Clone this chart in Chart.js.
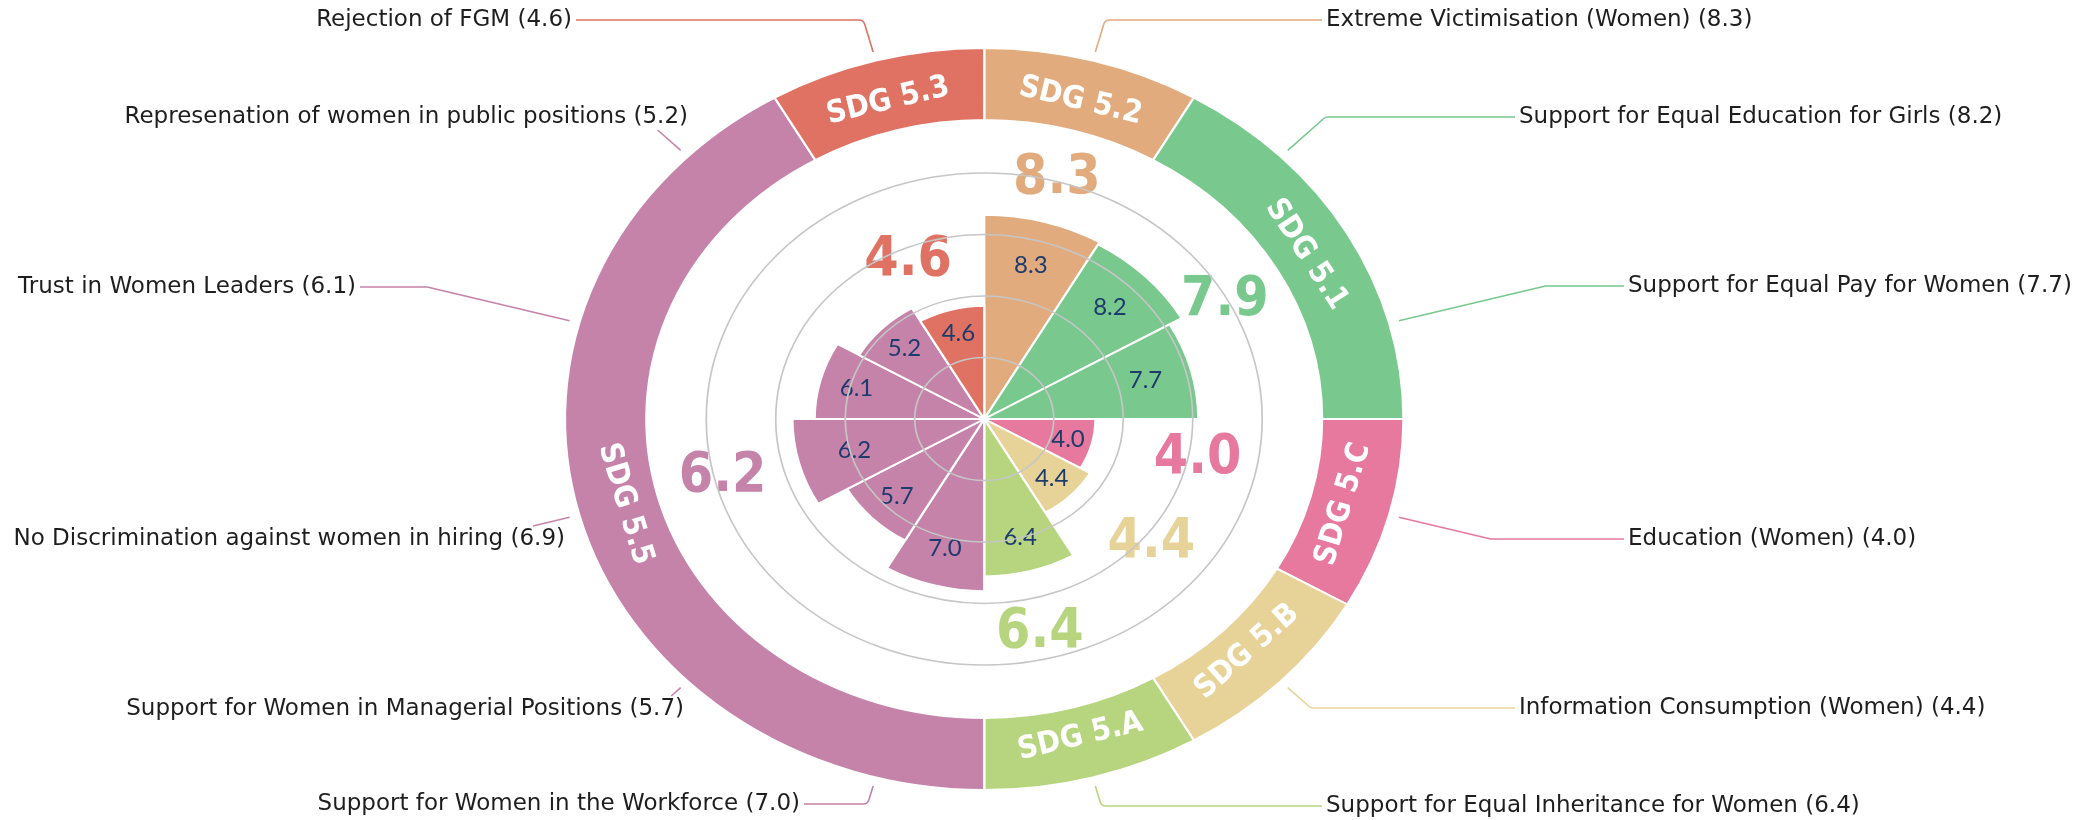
<!DOCTYPE html>
<html>
<head>
<meta charset="utf-8">
<script src="https://cdn.jsdelivr.net/npm/chart.js@4.4.1/dist/chart.umd.min.js"></script>
<style>
  html, body { margin: 0; padding: 0; background: #fff; }
  #wrap { position: relative; width: 2080px; height: 820px; }
  #wrap canvas { position: absolute; left: 0; top: 0; }
</style>
</head>
<body>
<div id="wrap">
  <canvas id="polar" width="2080" height="820"></canvas>
  <canvas id="ring" width="2080" height="820"></canvas>
</div>
<script>
// indicator wedges, clockwise from 12 o'clock
var indicators = [
  'Extreme Victimisation (Women)',
  'Support for Equal Education for Girls',
  'Support for Equal Pay for Women',
  'Education (Women)',
  'Information Consumption (Women)',
  'Support for Equal Inheritance for Women',
  'Support for Women in the Workforce',
  'Support for Women in Managerial Positions',
  'No Discrimination against women in hiring',
  'Trust in Women Leaders',
  'Represenation of women in public positions',
  'Rejection of FGM'
];
var scores = [8.3, 8.2, 7.7, 4.0, 4.4, 6.4, 7.0, 5.7, 6.9, 6.1, 5.2, 4.6];
// numbers printed inside the wedges
var scoreText = ['8.3', '8.2', '7.7', '4.0', '4.4', '6.4', '7.0', '5.7', '6.2', '6.1', '5.2', '4.6'];

// SDG targets of the outer ring and how many wedges each one covers
var targets = ['SDG 5.2', 'SDG 5.1', 'SDG 5.C', 'SDG 5.B', 'SDG 5.A', 'SDG 5.5', 'SDG 5.3'];
var targetSpan = [1, 2, 1, 1, 1, 5, 1];
var targetScores = [8.3, 7.9, 4.0, 4.4, 6.4, 6.2, 4.6];
var targetColors = ['#e2ab7e', '#79c88d', '#e6799d', '#e7d297', '#b6d57e', '#c583a9', '#df7262'];

var radialMax = 10;
var radialStep = 2.5;

// the whole figure is wider than tall
var SX = 1.13;

// callout text: [x of the text edge facing the line, y]
var calloutAt = [
  [1326, 20], [1519, 117], [1628, 286], [1628, 539], [1519, 708], [1326, 806],
  [800, 804], [684, 709], [565, 539], [356, 287], [688, 117], [572, 20]
];
// big target scores: [degrees clockwise from top, distance in scale units]
var scoreSpots = [[15, 10.1], [61, 9.9], [102, 7.85], [130, 7.85], [167, 8.9], [256, 9.7], [337, 7.0]];

var wedgeTarget = [];
targetSpan.forEach(function (n, t) {
  for (var k = 0; k < n; k++) wedgeTarget.push(t);
});
var wedgeColors = wedgeTarget.map(function (t) { return targetColors[t]; });

var condensed = '"DejaVu Sans Condensed", "Liberation Sans Narrow", "DejaVu Sans", sans-serif';

var stretchX = {
  id: 'stretchX',
  beforeDraw: function (chart) {
    chart.ctx.save();
    chart.ctx.scale(SX, 1);
  },
  afterDraw: function (chart) {
    chart.ctx.restore();
  }
};

// wedge values and target scores, under the grid circles
var polarText = {
  id: 'polarText',
  afterDatasetsDraw: function (chart) {
    var ctx = chart.ctx;
    var scale = chart.scales.r;
    var arcs = chart.getDatasetMeta(0).data;
    ctx.save();
    ctx.setTransform(1, 0, 0, 1, 0, 0);
    ctx.textAlign = 'center';
    ctx.textBaseline = 'middle';
    ctx.fillStyle = '#1d3b6d';
    ctx.font = '24px Lato, "DejaVu Sans", sans-serif';
    arcs.forEach(function (arc, i) {
      var mid = (arc.startAngle + arc.endAngle) / 2;
      var r = scale.getDistanceFromCenterForValue(parseFloat(scoreText[i]) * 0.78);
      ctx.fillText(scoreText[i], SX * (scale.xCenter + r * Math.cos(mid)), scale.yCenter + r * Math.sin(mid));
    });
    ctx.font = 'bold 55px ' + condensed;
    scoreSpots.forEach(function (s, t) {
      var a = (s[0] - 90) * Math.PI / 180;
      var r = scale.getDistanceFromCenterForValue(s[1]);
      ctx.fillStyle = targetColors[t];
      ctx.fillText(targetScores[t].toFixed(1), SX * (scale.xCenter + r * Math.cos(a)), scale.yCenter + r * Math.sin(a));
    });
    ctx.restore();
  }
};

var polarChart = new Chart(document.getElementById('polar'), {
  type: 'polarArea',
  data: {
    labels: indicators,
    datasets: [{
      data: scores,
      backgroundColor: wedgeColors,
      borderColor: '#ffffff',
      borderWidth: 2
    }]
  },
  options: {
    responsive: false,
    animation: false,
    events: [],
    layout: { padding: { left: 625, right: 963, top: 173, bottom: 155 } },
    plugins: { legend: { display: false }, tooltip: { enabled: false } },
    scales: {
      r: {
        min: 0,
        max: radialMax,
        ticks: { display: false, stepSize: radialStep },
        grid: { color: '#c6c6c6', lineWidth: 1.5, z: 1 },
        angleLines: { display: false },
        pointLabels: { display: false }
      }
    }
  },
  plugins: [stretchX, polarText]
});

// ring labels and the callouts round the outside
var ringText = {
  id: 'ringText',
  afterDraw: function (chart) {
    var ctx = chart.ctx;
    var segs = chart.getDatasetMeta(0).data;
    var wedges = polarChart.getDatasetMeta(0).data;
    ctx.save();
    ctx.textAlign = 'center';
    ctx.textBaseline = 'middle';
    ctx.fillStyle = '#ffffff';
    ctx.font = 'bold 31px ' + condensed;
    segs.forEach(function (seg, t) {
      var mid = (seg.startAngle + seg.endAngle) / 2;
      var r = (seg.innerRadius + seg.outerRadius) / 2 - 6;
      var x = SX * (seg.x + r * Math.cos(mid));
      var y = seg.y + r * Math.sin(mid);
      var rot = Math.atan2(Math.cos(mid), -SX * Math.sin(mid));
      if (rot > Math.PI / 2) rot -= Math.PI;
      if (rot <= -Math.PI / 2) rot += Math.PI;
      ctx.save();
      ctx.translate(x, y);
      ctx.rotate(rot);
      ctx.fillText(targets[t], 0, 0);
      ctx.restore();
    });

    var ring = segs[0];
    ctx.font = '23px "DejaVu Sans", sans-serif';
    ctx.lineWidth = 1.6;
    wedges.forEach(function (w, i) {
      var mid = (w.startAngle + w.endAngle) / 2;
      var c = Math.cos(mid), s = Math.sin(mid);
      var rA = ring.outerRadius * 1.024;
      var ax = SX * (ring.x + rA * c), ay = ring.y + rA * s;
      var tx = calloutAt[i][0], ty = calloutAt[i][1];
      var toRight = c > 0;
      var d = (ty - ring.y) / s;
      var kx = SX * (ring.x + d * c), ky = ty;
      var label = indicators[i] + ' (' + scores[i].toFixed(1) + ')';
      var tw = ctx.measureText(label).width;
      var x0 = toRight ? tx : tx - tw;
      var x1 = toRight ? tx + tw : tx;

      ctx.strokeStyle = targetColors[wedgeTarget[i]];
      ctx.beginPath();
      ctx.moveTo(ax, ay);
      if (kx > x0 - 4 && kx < x1 + 4) {
        // the knee falls under the text: stop at the text box
        var edge = ty + (ay < ty ? -13 : 13);
        var f = (edge - ay) / (ky - ay);
        ctx.lineTo(ax + (kx - ax) * f, edge);
      } else {
        var ex = toRight ? tx - 4 : tx + 4;
        ctx.arcTo(kx, ky, ex, ky, 6);
        ctx.lineTo(ex, ky);
      }
      ctx.stroke();

      ctx.fillStyle = '#1e1e1e';
      ctx.textAlign = toRight ? 'left' : 'right';
      ctx.fillText(label, tx, ty);
    });
    ctx.restore();
  }
};

var ringChart = new Chart(document.getElementById('ring'), {
  type: 'doughnut',
  data: {
    labels: targets,
    datasets: [{
      data: targetSpan,
      backgroundColor: targetColors,
      borderColor: '#ffffff',
      borderWidth: 2
    }]
  },
  options: {
    responsive: false,
    animation: false,
    events: [],
    radius: 371,
    cutout: '80.6%',
    layout: { padding: { left: 0, right: 338, top: 18, bottom: 0 } },
    plugins: { legend: { display: false }, tooltip: { enabled: false } }
  },
  plugins: [stretchX, ringText]
});
</script>
</body>
</html>
